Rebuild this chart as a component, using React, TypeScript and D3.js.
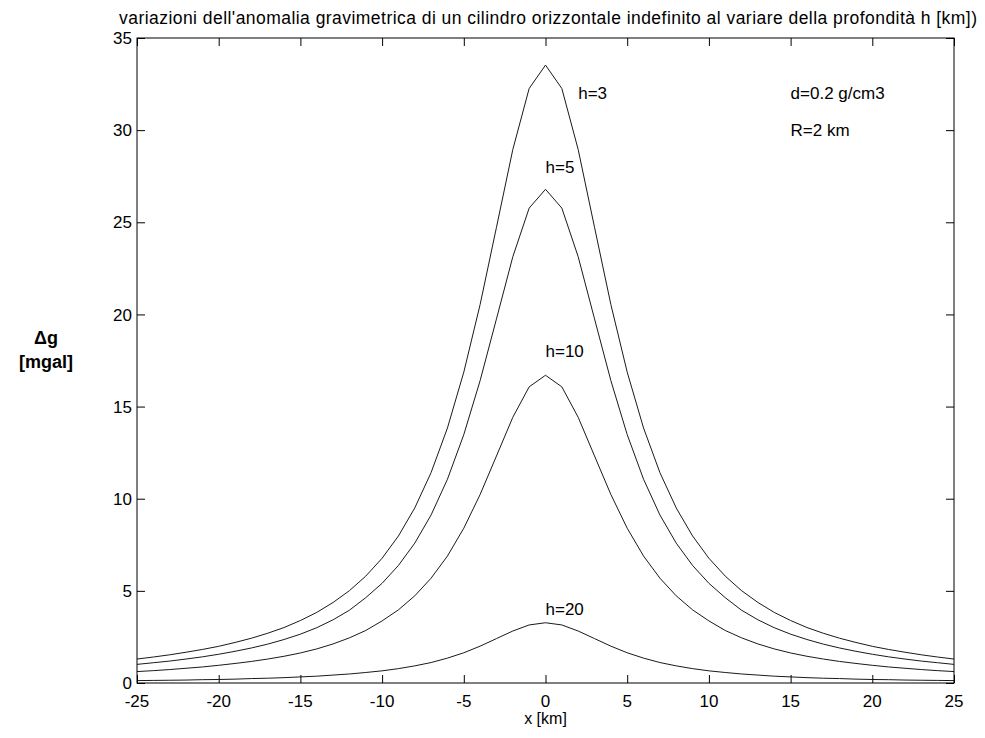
import * as d3 from "d3";
import React, { useRef, useEffect } from "react";

// campionamento in x [km]
const xKm = [
  -25, -24, -23, -22, -21, -20, -19, -18, -17, -16, -15, -14, -13, -12, -11, -10, -9, -8, -7, -6, -5, -4, -3, -2, -1,
  0, 1, 2, 3, 4, 5, 6, 7, 8, 9, 10, 11, 12, 13, 14, 15, 16, 17, 18, 19, 20, 21, 22, 23, 24, 25,
];

// anomalia [mgal]
const gH3 = [
  1.3, 1.41, 1.53, 1.67, 1.82, 1.99, 2.2, 2.43, 2.7, 3.01, 3.39, 3.83, 4.37, 5.01, 5.8, 6.77, 7.98, 9.5, 11.42, 13.84, 16.87, 20.54, 24.73, 28.95, 32.26,
  33.53, 32.26, 28.95, 24.73, 20.54, 16.87, 13.84, 11.42, 9.5, 7.98, 6.77, 5.8, 5.01, 4.37, 3.83, 3.39, 3.01, 2.7, 2.43, 2.2, 1.99, 1.82, 1.67, 1.53, 1.41, 1.3,
];
const gH5 = [
  1.01, 1.1, 1.19, 1.3, 1.42, 1.56, 1.72, 1.9, 2.11, 2.36, 2.65, 3.0, 3.43, 3.95, 4.63, 5.41, 6.38, 7.59, 9.12, 11.06, 13.48, 16.41, 19.76, 23.13, 25.77,
  26.79, 25.77, 23.13, 19.76, 16.41, 13.48, 11.06, 9.12, 7.59, 6.38, 5.41, 4.63, 3.95, 3.43, 3.0, 2.65, 2.36, 2.11, 1.9, 1.72, 1.56, 1.42, 1.3, 1.19, 1.1, 1.01,
];
const gH10 = [
  0.62, 0.67, 0.73, 0.8, 0.87, 0.96, 1.06, 1.17, 1.3, 1.45, 1.63, 1.85, 2.12, 2.45, 2.85, 3.37, 3.97, 4.73, 5.69, 6.89, 8.4, 10.23, 12.32, 14.42, 16.07,
  16.7, 16.07, 14.42, 12.32, 10.23, 8.4, 6.89, 5.69, 4.73, 3.97, 3.37, 2.85, 2.45, 2.12, 1.85, 1.63, 1.45, 1.3, 1.17, 1.06, 0.96, 0.87, 0.8, 0.73, 0.67, 0.62,
];
const gH20 = [
  0.13, 0.14, 0.15, 0.16, 0.18, 0.19, 0.21, 0.24, 0.26, 0.29, 0.33, 0.37, 0.43, 0.49, 0.57, 0.66, 0.78, 0.93, 1.11, 1.35, 1.64, 2.0, 2.41, 2.82, 3.15,
  3.27, 3.15, 2.82, 2.41, 2.0, 1.64, 1.35, 1.11, 0.93, 0.78, 0.66, 0.57, 0.49, 0.43, 0.37, 0.33, 0.29, 0.26, 0.24, 0.21, 0.19, 0.18, 0.16, 0.15, 0.14, 0.13,
];

const xTicks = [-25, -20, -15, -10, -5, 0, 5, 10, 15, 20, 25];
const yTicks = [0, 5, 10, 15, 20, 25, 30, 35];

// testi nel grafico, in coordinate dei dati
const labelText = ["h=3", "h=5", "h=10", "h=20", "d=0.2 g/cm3", "R=2 km"];
const labelX = [2, 0, 0, 0, 15, 15];
const labelY = [32, 28, 18, 4, 32, 30];

const title =
  "variazioni dell'anomalia gravimetrica di un cilindro orizzontale indefinito al variare della profondità h [km])";

export default function App() {
  const ref = useRef<SVGSVGElement>(null);

  useEffect(() => {
    const width = 985,
      height = 738;
    const left = 137,
      right = 954,
      top = 38,
      bottom = 683;
    const font = "'Liberation Sans', Arial, sans-serif";

    const svg = d3.select(ref.current);
    svg.selectAll("*").remove();
    svg.attr("width", width).attr("height", height);

    svg.append("rect").attr("width", width).attr("height", height).style("fill", "white");

    const x = d3.scaleLinear().domain([-25, 25]).range([left, right]);
    const y = d3.scaleLinear().domain([0, 35]).range([bottom, top]);

    const line = d3
      .line<number>()
      .x((d, i) => x(xKm[i]))
      .y((d) => y(d));

    [gH3, gH5, gH10, gH20].forEach((s) => {
      svg
        .append("path")
        .datum(s)
        .attr("d", line)
        .style("fill", "none")
        .style("stroke", "#1a1a1a")
        .style("stroke-width", 1);
    });

    // assi con tacche interne su tutti i lati
    const tick = 8;
    svg
      .append("g")
      .attr("transform", `translate(0,${bottom})`)
      .call(d3.axisBottom(x).tickValues(xTicks).tickSizeInner(-tick).tickSizeOuter(0).tickFormat(() => ""));
    svg
      .append("g")
      .attr("transform", `translate(0,${top})`)
      .call(d3.axisTop(x).tickValues(xTicks).tickSizeInner(-tick).tickSizeOuter(0).tickFormat(() => ""));
    svg
      .append("g")
      .attr("transform", `translate(${left},0)`)
      .call(d3.axisLeft(y).tickValues(yTicks).tickSizeInner(-tick).tickSizeOuter(0).tickFormat(() => ""));
    svg
      .append("g")
      .attr("transform", `translate(${right},0)`)
      .call(d3.axisRight(y).tickValues(yTicks).tickSizeInner(-tick).tickSizeOuter(0).tickFormat(() => ""));
    svg.selectAll(".domain").remove();
    svg.selectAll(".tick line").style("stroke", "black");

    svg
      .append("rect")
      .attr("x", left)
      .attr("y", top)
      .attr("width", right - left)
      .attr("height", bottom - top)
      .style("fill", "none")
      .style("stroke", "black")
      .style("stroke-width", 1);

    // etichette delle tacche
    svg
      .selectAll(".xl")
      .data(xTicks)
      .enter()
      .append("text")
      .attr("x", (d) => x(d))
      .attr("y", 707)
      .attr("text-anchor", "middle")
      .style("font-family", font)
      .style("font-size", "17px")
      .text((d) => d);

    svg
      .selectAll(".yl")
      .data(yTicks)
      .enter()
      .append("text")
      .attr("x", left - 5)
      .attr("y", (d) => y(d))
      .attr("dy", "0.36em")
      .attr("text-anchor", "end")
      .style("font-family", font)
      .style("font-size", "17px")
      .text((d) => d);

    labelText.forEach((t, i) => {
      svg
        .append("text")
        .attr("x", x(labelX[i]))
        .attr("y", y(labelY[i]))
        .attr("dy", "0.36em")
        .style("font-family", font)
        .style("font-size", "17px")
        .text(t);
    });

    svg
      .append("text")
      .attr("x", 119)
      .attr("y", 24)
      .attr("textLength", 858)
      .attr("lengthAdjust", "spacing")
      .style("font-family", font)
      .style("font-size", "17.5px")
      .text(title);

    svg
      .append("text")
      .attr("x", (left + right) / 2)
      .attr("y", 724)
      .attr("text-anchor", "middle")
      .style("font-family", font)
      .style("font-size", "16px")
      .text("x [km]");

    const yl = svg
      .append("text")
      .attr("text-anchor", "middle")
      .style("font-family", font)
      .style("font-size", "18px")
      .style("font-weight", "bold");
    yl.append("tspan").attr("x", 46).attr("y", 344).text("Δg");
    yl.append("tspan").attr("x", 46).attr("y", 368).text("[mgal]");
  }, []);

  return (
    <div style={{ position: "absolute", left: 0, top: 0 }}>
      <svg ref={ref} style={{ display: "block" }}></svg>
    </div>
  );
}
